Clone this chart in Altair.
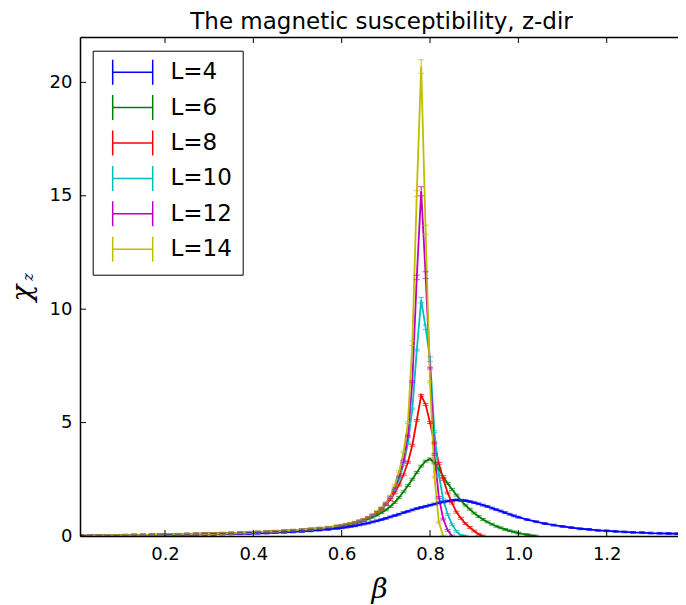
import altair as alt
import pandas as pd

# ---------------- data ----------------
BETA = [0.01, 0.03, 0.05, 0.07, 0.09, 0.11, 0.13, 0.15, 0.17, 0.19,
        0.21, 0.23, 0.25, 0.27, 0.29, 0.31, 0.33, 0.35, 0.37, 0.39,
        0.41, 0.43, 0.45, 0.47, 0.49, 0.51, 0.53, 0.55, 0.57, 0.59,
        0.60, 0.61, 0.62, 0.63, 0.64, 0.65, 0.66, 0.67, 0.68, 0.69,
        0.70, 0.71, 0.72, 0.73, 0.74, 0.75, 0.76, 0.77, 0.78, 0.79,
        0.80, 0.81, 0.82, 0.83, 0.84, 0.85, 0.86, 0.87, 0.88, 0.89,
        0.90, 0.91, 0.92, 0.93, 0.94, 0.95, 0.96, 0.97, 0.98, 0.99,
        1.00, 1.02, 1.04, 1.06, 1.08, 1.10, 1.12, 1.14, 1.16, 1.18,
        1.20, 1.22, 1.24, 1.26, 1.28, 1.30, 1.32, 1.34, 1.36, 1.38]

N = None
CHI_L4 = [0.00, 0.00, 0.01, 0.01, 0.01, 0.02, 0.02, 0.03, 0.03, 0.04,
          0.04, 0.05, 0.05, 0.06, 0.07, 0.07, 0.08, 0.09, 0.10, 0.11,
          0.12, 0.13, 0.15, 0.16, 0.18, 0.20, 0.23, 0.26, 0.29, 0.34,
          0.36, 0.39, 0.42, 0.45, 0.49, 0.53, 0.57, 0.62, 0.67, 0.72,
          0.78, 0.84, 0.90, 0.96, 1.03, 1.09, 1.15, 1.21, 1.26, 1.31,
          1.36, 1.41, 1.46, 1.50, 1.54, 1.57, 1.59, 1.58, 1.56, 1.52,
          1.47, 1.42, 1.36, 1.30, 1.23, 1.16, 1.10, 1.03, 0.96, 0.89,
          0.83, 0.72, 0.63, 0.55, 0.48, 0.42, 0.37, 0.32, 0.29, 0.25,
          0.23, 0.20, 0.18, 0.16, 0.15, 0.13, 0.12, 0.11, 0.10, 0.09]
CHI_L6 = [0.00, 0.01, 0.01, 0.02, 0.02, 0.03, 0.04, 0.04, 0.05, 0.06,
          0.06, 0.07, 0.08, 0.09, 0.10, 0.10, 0.11, 0.12, 0.14, 0.15,
          0.16, 0.18, 0.20, 0.22, 0.24, 0.26, 0.29, 0.32, 0.36, 0.41,
          0.44, 0.48, 0.52, 0.57, 0.62, 0.68, 0.75, 0.83, 0.92, 1.03,
          1.15, 1.30, 1.48, 1.70, 1.95, 2.22, 2.50, 2.80, 3.08, 3.30,
          3.40, 3.22, 2.95, 2.62, 2.32, 2.05, 1.80, 1.56, 1.36, 1.18,
          1.01, 0.86, 0.73, 0.62, 0.52, 0.43, 0.36, 0.29, 0.23, 0.18,
          0.13, 0.06, 0.00, N, N, N, N, N, N, N,
          N, N, N, N, N, N, N, N, N, N]
CHI_L8 = [0.00, 0.01, 0.01, 0.02, 0.02, 0.03, 0.04, 0.04, 0.05, 0.06,
          0.07, 0.07, 0.08, 0.09, 0.10, 0.11, 0.12, 0.13, 0.14, 0.15,
          0.17, 0.18, 0.20, 0.22, 0.24, 0.27, 0.30, 0.33, 0.37, 0.42,
          0.46, 0.50, 0.54, 0.59, 0.65, 0.72, 0.80, 0.90, 1.02, 1.18,
          1.38, 1.60, 1.90, 2.25, 2.70, 3.25, 4.00, 5.10, 6.20, 5.80,
          5.00, 4.10, 3.20, 2.50, 1.90, 1.45, 1.05, 0.78, 0.55, 0.38,
          0.22, 0.08, 0.00, N, N, N, N, N, N, N,
          N, N, N, N, N, N, N, N, N, N,
          N, N, N, N, N, N, N, N, N, N]
CHI_L10 = [0.00, 0.01, 0.01, 0.02, 0.02, 0.03, 0.04, 0.04, 0.05, 0.06,
           0.07, 0.07, 0.08, 0.09, 0.10, 0.11, 0.12, 0.13, 0.14, 0.16,
           0.17, 0.19, 0.20, 0.22, 0.25, 0.27, 0.30, 0.34, 0.38, 0.43,
           0.47, 0.50, 0.54, 0.59, 0.65, 0.72, 0.81, 0.91, 1.04, 1.20,
           1.42, 1.68, 2.02, 2.50, 3.15, 4.10, 5.60, 8.20, 10.40, 9.20,
           7.80, 4.60, 2.70, 1.60, 0.95, 0.50, 0.20, 0.03, 0.00, N,
           N, N, N, N, N, N, N, N, N, N,
           N, N, N, N, N, N, N, N, N, N,
           N, N, N, N, N, N, N, N, N, N]
CHI_L12 = [0.00, 0.01, 0.01, 0.02, 0.02, 0.03, 0.04, 0.04, 0.05, 0.06,
           0.07, 0.07, 0.08, 0.09, 0.10, 0.11, 0.12, 0.13, 0.14, 0.16,
           0.17, 0.19, 0.21, 0.23, 0.25, 0.28, 0.31, 0.34, 0.38, 0.43,
           0.47, 0.51, 0.55, 0.60, 0.66, 0.73, 0.82, 0.92, 1.05, 1.22,
           1.44, 1.72, 2.08, 2.60, 3.30, 4.40, 6.80, 11.40, 15.20, 11.50,
           7.40, 3.60, 1.70, 0.75, 0.25, 0.00, N, N, N, N,
           N, N, N, N, N, N, N, N, N, N,
           N, N, N, N, N, N, N, N, N, N,
           N, N, N, N, N, N, N, N, N, N]
CHI_L14 = [0.00, 0.01, 0.01, 0.02, 0.03, 0.03, 0.04, 0.05, 0.05, 0.06,
           0.07, 0.08, 0.08, 0.09, 0.10, 0.11, 0.12, 0.13, 0.15, 0.16,
           0.18, 0.19, 0.21, 0.23, 0.26, 0.28, 0.31, 0.35, 0.39, 0.44,
           0.48, 0.52, 0.56, 0.61, 0.67, 0.74, 0.83, 0.94, 1.07, 1.24,
           1.46, 1.75, 2.25, 2.85, 3.70, 5.00, 8.50, 15.10, 20.70, 13.50,
           6.80, 2.60, 0.60, 0.00, N, N, N, N, N, N,
           N, N, N, N, N, N, N, N, N, N,
           N, N, N, N, N, N, N, N, N, N,
           N, N, N, N, N, N, N, N, N, N]

LABELS = ["L=4", "L=6", "L=8", "L=10", "L=12", "L=14"]
COLORS = ["#0000ff", "#008000", "#ff0000", "#00bfbf", "#bf00bf", "#bfbf00"]
SERIES = [CHI_L4, CHI_L6, CHI_L8, CHI_L10, CHI_L12, CHI_L14]

ERR_DEFAULT = 0.04
PEAK_ERR = {
    "L=10": {0.78: 0.12, 0.79: 0.10, 0.80: 0.10},
    "L=12": {0.77: 0.10, 0.78: 0.20, 0.79: 0.15},
    "L=14": {0.76: 0.10, 0.77: 0.12, 0.78: 0.30, 0.79: 0.20},
}

X_TICKS = [0.2, 0.4, 0.6, 0.8, 1.0, 1.2]
Y_TICKS = [0, 5, 10, 15, 20]

rows = []
for lab, vals in zip(LABELS, SERIES):
    for b, v in zip(BETA, vals):
        if v is None:
            continue
        e = PEAK_ERR.get(lab, {}).get(b, ERR_DEFAULT)
        rows.append({"beta": b, "chi": v, "err": e, "L": lab})
df = pd.DataFrame(rows)

W, H = 598, 499
x_scale = alt.Scale(domain=[0.0076, 1.3614], nice=False, zero=False)
y_scale = alt.Scale(domain=[0, 22], nice=False, zero=False)
c_scale = alt.Scale(domain=LABELS, range=COLORS)

SYM = "M-0.3,-2.5L-0.3,2.5M-0.3,0L7.7,0M7.7,-2.5L7.7,2.5"

legend = alt.Legend(
    title=None, orient="none", legendX=12.7, legendY=13.7,
    symbolType=SYM, symbolSize=100, symbolStrokeWidth=1.5,
    labelFont="DejaVu Sans", labelFontSize=23, labelColor="black",
    labelOffset=44.8, rowPadding=4.4, padding=10,
    strokeColor="black", fillColor="white", cornerRadius=0,
    labelLimit=0,
)

base = alt.Chart(df)

lines = base.mark_line(strokeWidth=1.8, clip=True).encode(
    x=alt.X("beta:Q", scale=x_scale,
            axis=alt.Axis(values=X_TICKS, format=".1f", ticks=False,
                          labelPadding=9, title="β", titleFont="DejaVu Serif",
                          titleFontStyle="italic", titleFontWeight="normal",
                          titleFontSize=28, titlePadding=12, titleColor="black",
                          zindex=1)),
    y=alt.Y("chi:Q", scale=y_scale,
            axis=alt.Axis(values=Y_TICKS, format="d", ticks=False,
                          labelPadding=8, title=None, zindex=1)),
    color=alt.Color("L:N", scale=c_scale, legend=legend),
    order="beta:Q",
)

errs = base.transform_calculate(
    lo="datum.chi - datum.err", hi="datum.chi + datum.err"
)
bars = errs.mark_rule(strokeWidth=1, clip=True).encode(
    x=alt.X("beta:Q", scale=x_scale, axis=None),
    y=alt.Y("lo:Q", scale=y_scale, axis=None),
    y2="hi:Q",
    color=alt.Color("L:N", scale=c_scale, legend=None),
)
caps_lo = errs.mark_tick(orient="horizontal", size=6, thickness=1, clip=True).encode(
    x=alt.X("beta:Q", scale=x_scale, axis=None),
    y=alt.Y("lo:Q", scale=y_scale, axis=None),
    color=alt.Color("L:N", scale=c_scale, legend=None),
)
caps_hi = errs.mark_tick(orient="horizontal", size=6, thickness=1, clip=True).encode(
    x=alt.X("beta:Q", scale=x_scale, axis=None),
    y=alt.Y("hi:Q", scale=y_scale, axis=None),
    color=alt.Color("L:N", scale=c_scale, legend=None),
)

xt = pd.DataFrame({"v": X_TICKS})
yt = pd.DataFrame({"v": Y_TICKS})
xt_bottom = alt.Chart(xt).mark_rule(color="black", strokeWidth=1).encode(
    x=alt.X("v:Q", scale=x_scale, axis=None),
    y=alt.value(H), y2=alt.value(H - 6),
)
xt_top = alt.Chart(xt).mark_rule(color="black", strokeWidth=1).encode(
    x=alt.X("v:Q", scale=x_scale,
            axis=alt.Axis(orient="top", labels=False, ticks=False, title=None,
                          domain=True, zindex=1)),
    y=alt.value(0), y2=alt.value(6),
)
yt_left = alt.Chart(yt).mark_rule(color="black", strokeWidth=1).encode(
    y=alt.Y("v:Q", scale=y_scale, axis=None),
    x=alt.value(0), x2=alt.value(6),
)

chi_txt = alt.Chart(pd.DataFrame({"t": ["χ"]})).mark_text(
    font="DejaVu Serif", fontStyle="italic", fontSize=28, angle=270,
    align="center", baseline="middle", color="black",
).encode(x=alt.value(-57), y=alt.value(256), text="t:N")
z_txt = alt.Chart(pd.DataFrame({"t": ["z"]})).mark_text(
    font="DejaVu Serif", fontStyle="italic", fontSize=15, angle=270,
    align="center", baseline="middle", color="black",
).encode(x=alt.value(-52), y=alt.value(240), text="t:N")

chart = alt.layer(
    lines, bars, caps_lo, caps_hi, xt_bottom, xt_top, yt_left, chi_txt, z_txt
).resolve_axis(x="independent", y="independent").properties(
    width=W, height=H,
    title=alt.TitleParams("The magnetic susceptibility, z-dir", font="DejaVu Sans",
                          fontSize=23, fontWeight="normal", color="black",
                          anchor="middle", dx=2.5, offset=3),
    autosize=alt.AutoSizeParams(type="none"),
    padding={"left": 72, "top": 29, "right": 0, "bottom": 68},
).configure_axis(
    domainColor="black", domainWidth=1.5, labelColor="black",
    labelFont="DejaVu Sans", labelFontSize=18, grid=False,
).configure_view(stroke=None)

chart.save("out.html", embed_options={"renderer": "svg", "actions": False})
